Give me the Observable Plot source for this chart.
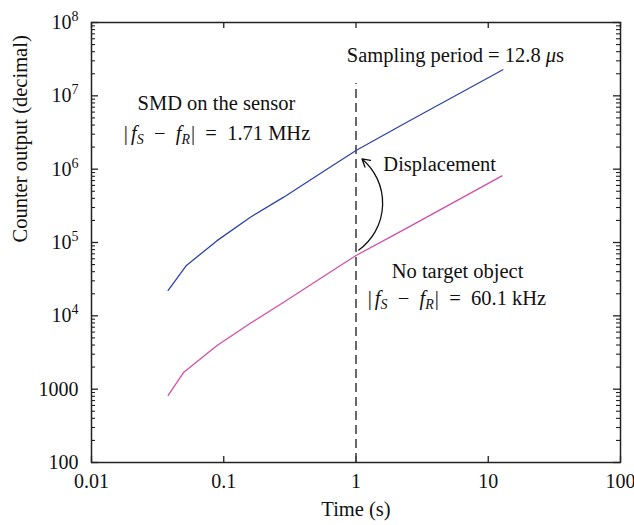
<!DOCTYPE html>
<html>
<head>
<meta charset="utf-8">
<script src="https://cdn.jsdelivr.net/npm/d3@7"></script>
<script src="https://cdn.jsdelivr.net/npm/@observablehq/plot@0.6"></script>
<style>
  body { margin: 0; background: white; }
  #chart svg { display: block; }
</style>
</head>
<body>
<div id="chart"></div>
<script>
// ---- data ----
const timeSMD   = [0.038, 0.0522, 0.089, 0.159, 0.284, 0.509, 1.0, 2.5, 12.9];
const countSMD  = [2.22e4, 4.86e4, 1.06e5, 2.21e5, 4.15e5, 8.2e5, 1.8e6, 4.5e6, 2.27e7];
const timeNone  = [0.038, 0.0499, 0.089, 0.159, 0.284, 0.509, 1.0, 2.44, 12.7];
const countNone = [820, 1706, 3940, 7940, 1.53e4, 3.03e4, 6.65e4, 1.58e5, 8.1e5];

const xTicks = [0.01, 0.1, 1, 10, 100];
const xTickLabels = ["0.01", "0.1", "1", "10", "100"];
const yTicks = [100, 1000, 1e4, 1e5, 1e6, 1e7, 1e8];
const yTickLabels = ["100", "1000", "10^4", "10^5", "10^6", "10^7", "10^8"];
const yMinor = [];
for (let e = 2; e < 8; e++) for (let m = 2; m <= 9; m++) yMinor.push(m * Math.pow(10, e));

const samplingTime = [1];
const samplingTop = 1.47e7;

const centeredNotes = [
  {x: 0.088, y: 7.87e6, text: "SMD on the sensor"},
  {x: 0.089, y: 3.07e6, text: "MATH:1.71 MHz"},
  {x: 5.65, y: 3.55e7, text: "Sampling period = 12.8 μs"},
  {x: 5.86, y: 4.03e4, text: "No target object"},
  {x: 5.8, y: 1.72e4, text: "MATH:60.1 kHz"}
];
const startNotes = [
  {x: 1.61, y: 1.16e6, text: "Displacement"}
];
const displacementArrow = [{x1: 1.05, y1: 7.9e4, x2: 1.11, y2: 1.38e6}];

const smd = timeSMD.map((t, i) => ({t, c: countSMD[i]}));
const none = timeNone.map((t, i) => ({t, c: countNone[i]}));

const W = 634, H = 525, ML = 91, MR = 14, MT = 22, MB = 63;
const IW = W - ML - MR, IH = H - MT - MB;
const ink = "#222";
const FS = 20.5;

const chart = Plot.plot({
  width: W, height: H,
  marginLeft: ML, marginRight: MR, marginTop: MT, marginBottom: MB,
  style: {fontFamily: "'Liberation Serif', 'DejaVu Serif', serif", fontSize: "20px", background: "white", color: "#111"},
  x: {type: "log", domain: [0.01, 100], axis: null},
  y: {type: "log", domain: [100, 1e8], axis: null},
  marks: [
    // ticks, inward
    Plot.ruleX(xTicks, {x: d => d, insetTop: IH - 6, stroke: ink, strokeWidth: 1.3}),
    Plot.ruleX(xTicks, {x: d => d, insetBottom: IH - 6, stroke: ink, strokeWidth: 1.3}),
    Plot.ruleY(yTicks, {y: d => d, insetRight: IW - 7, stroke: ink, strokeWidth: 1.3}),
    Plot.ruleY(yTicks, {y: d => d, insetLeft: IW - 7, stroke: ink, strokeWidth: 1.3}),
    Plot.ruleY(yMinor, {y: d => d, insetRight: IW - 4, stroke: ink, strokeWidth: 1.1}),
    Plot.ruleY(yMinor, {y: d => d, insetLeft: IW - 4, stroke: ink, strokeWidth: 1.1}),
    // tick labels
    Plot.axisX(xTicks, {anchor: "bottom", tickSize: 0, tickPadding: 11, tickFormat: d => xTickLabels[xTicks.indexOf(d)], fontSize: 20, label: null}),
    Plot.axisY(yTicks, {anchor: "left", tickSize: 0, tickPadding: 13, tickFormat: d => yTickLabels[yTicks.indexOf(d)], fontSize: 20, label: null}),
    // axis titles
    Plot.text(["Time (s)"], {frameAnchor: "bottom", dy: 53, fontSize: FS, fill: "#111"}),
    Plot.text(["Counter output (decimal)"], {frameAnchor: "left", dx: -71, rotate: -90, fontSize: FS, fill: "#111"}),
    // sampling line
    Plot.ruleX(samplingTime, {x: d => d, y1: 100, y2: samplingTop, stroke: "#444", strokeWidth: 1.6, strokeDasharray: "9,5"}),
    // series
    Plot.line(smd, {x: "t", y: "c", stroke: "#2d44a6", strokeWidth: 1.3}),
    Plot.line(none, {x: "t", y: "c", stroke: "#d24fa6", strokeWidth: 1.3}),
    // displacement arrow
    Plot.arrow(displacementArrow, {x1: "x1", y1: "y1", x2: "x2", y2: "y2", bend: -52, headLength: 10, stroke: "#111", strokeWidth: 1.3}),
    // annotations
    Plot.text(centeredNotes, {x: "x", y: "y", text: "text", textAnchor: "middle", fontSize: FS, fill: "#111"}),
    Plot.text(startNotes, {x: "x", y: "y", text: "text", textAnchor: "start", fontSize: FS, fill: "#111"}),
    Plot.frame({stroke: ink, strokeWidth: 1.5})
  ]
});

// rich text: superscripts, italics, subscripts
const mathHTML = v => `|<tspan dx="3" font-style="italic">f</tspan><tspan font-style="italic" font-size="14" dy="4">S</tspan><tspan dy="-4">\u2002−\u2002</tspan><tspan font-style="italic">f</tspan><tspan font-style="italic" font-size="14" dy="4">R</tspan><tspan dy="-4" dx="1">|\u2002=\u2002${v}</tspan>`;
chart.querySelectorAll("text").forEach(t => {
  const s = t.textContent;
  if (s.startsWith("MATH:")) {
    t.innerHTML = mathHTML(s.slice(5));
  } else if (/^10\^\d$/.test(s)) {
    t.innerHTML = `10<tspan font-size="14" dy="-8">${s.slice(3)}</tspan>`;
  } else if (s.includes("μs")) {
    t.innerHTML = s.replace("μs", '<tspan font-style="italic">μ</tspan>s');
  }
});

document.getElementById("chart").appendChild(chart);
</script>
</body>
</html>
